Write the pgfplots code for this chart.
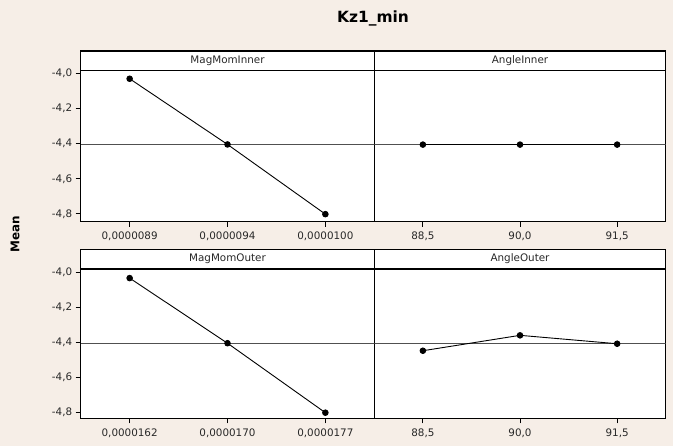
\documentclass[border=0pt]{standalone}
\usepackage{pgfplots}
\pgfplotsset{compat=1.18}
\usepackage{fontspec}
\setmainfont{DejaVu Sans}
\definecolor{bg}{RGB}{246,238,231}
\definecolor{refl}{RGB}{80,80,80}
\definecolor{txt}{RGB}{40,40,40}
\begin{document}
\begin{tikzpicture}[x=1bp,y=1bp]
\fill[bg] (0,0) rectangle (673,446);
\coordinate (TL) at (80.7,375.3);
\coordinate (TR) at (374.3,375.3);
\coordinate (BL) at (80.7,177);
\coordinate (BR) at (374.3,177);
\pgfplotsset{
  panel/.style={
    scale only axis, anchor=north west,
    xmin=0.5, xmax=3.5, ymin=-4.845, ymax=-3.983,
    axis background/.style={fill=white},
    axis line style={line width=1.1bp, black},
    xtick={1,2,3}, tick align=outside, xtick pos=bottom, ytick pos=left,
    major tick length=5bp,
    tick style={black, line width=0.9bp},
    ticklabel style={font=\fontsize{10.4}{12}\selectfont, text=txt},
    xticklabel style={yshift=-2bp},
  },
  leftp/.style={ytick={-4.8,-4.6,-4.4,-4.2,-4.0},
    yticklabels={{-4,8},{-4,6},{-4,4},{-4,2},{-4,0}}},
  rightp/.style={ytick=\empty},
  refline/.style={refl, line width=0.7bp, forget plot},
  dat/.style={black, line width=0.9bp, mark=*, mark size=2.8bp, mark options={solid, fill=black}},
}
% Top-left
\begin{axis}[panel, leftp, at={(TL)}, width=293.6bp, height=151bp,
  xticklabels={{0,0000089},{0,0000094},{0,0000100}}]
\addplot[refline] coordinates {(0.5,-4.403) (3.5,-4.403)};
\addplot[dat] coordinates {(1,-4.029) (2,-4.404) (3,-4.802)};
\end{axis}
% Top-right
\begin{axis}[panel, rightp, at={(TR)}, width=291.4bp, height=151bp,
  xticklabels={{88,5},{90,0},{91,5}}]
\addplot[refline] coordinates {(0.5,-4.403) (3.5,-4.403)};
\addplot[dat] coordinates {(1,-4.405) (2,-4.405) (3,-4.405)};
\end{axis}
% Bottom-left
\begin{axis}[panel, leftp, at={(BL)}, width=293.6bp, height=149.3bp,
  ymin=-4.832, ymax=-3.979,
  xticklabels={{0,0000162},{0,0000170},{0,0000177}}]
\addplot[refline] coordinates {(0.5,-4.403) (3.5,-4.403)};
\addplot[dat] coordinates {(1,-4.031) (2,-4.403) (3,-4.800)};
\end{axis}
% Bottom-right
\begin{axis}[panel, rightp, at={(BR)}, width=291.4bp, height=149.3bp,
  ymin=-4.832, ymax=-3.979,
  xticklabels={{88,5},{90,0},{91,5}}]
\addplot[refline] coordinates {(0.5,-4.403) (3.5,-4.403)};
\addplot[dat] coordinates {(1,-4.446) (2,-4.358) (3,-4.406)};
\end{axis}
% strip headers
\begin{scope}[line width=1.1bp]
\draw[fill=white] (80.7,395) rectangle (374.3,375.3);
\draw[fill=white] (374.3,395) rectangle (665.7,375.3);
\draw[fill=white] (80.7,196.7) rectangle (374.3,177);
\draw[fill=white] (374.3,196.7) rectangle (665.7,177);
\end{scope}
\begin{scope}[every node/.style={font=\fontsize{10.4}{12}\selectfont, text=txt}]
\node at (227.5,385.2) {MagMomInner};
\node at (520,385.2) {AngleInner};
\node at (227.5,186.9) {MagMomOuter};
\node at (520,186.9) {AngleOuter};
\end{scope}
\node[font=\bfseries\fontsize{15.5}{18}\selectfont] at (373,428) {Kz1\_min};
\node[font=\bfseries\fontsize{12}{14}\selectfont, rotate=90] at (15,212) {Mean};
\end{tikzpicture}
\end{document}
